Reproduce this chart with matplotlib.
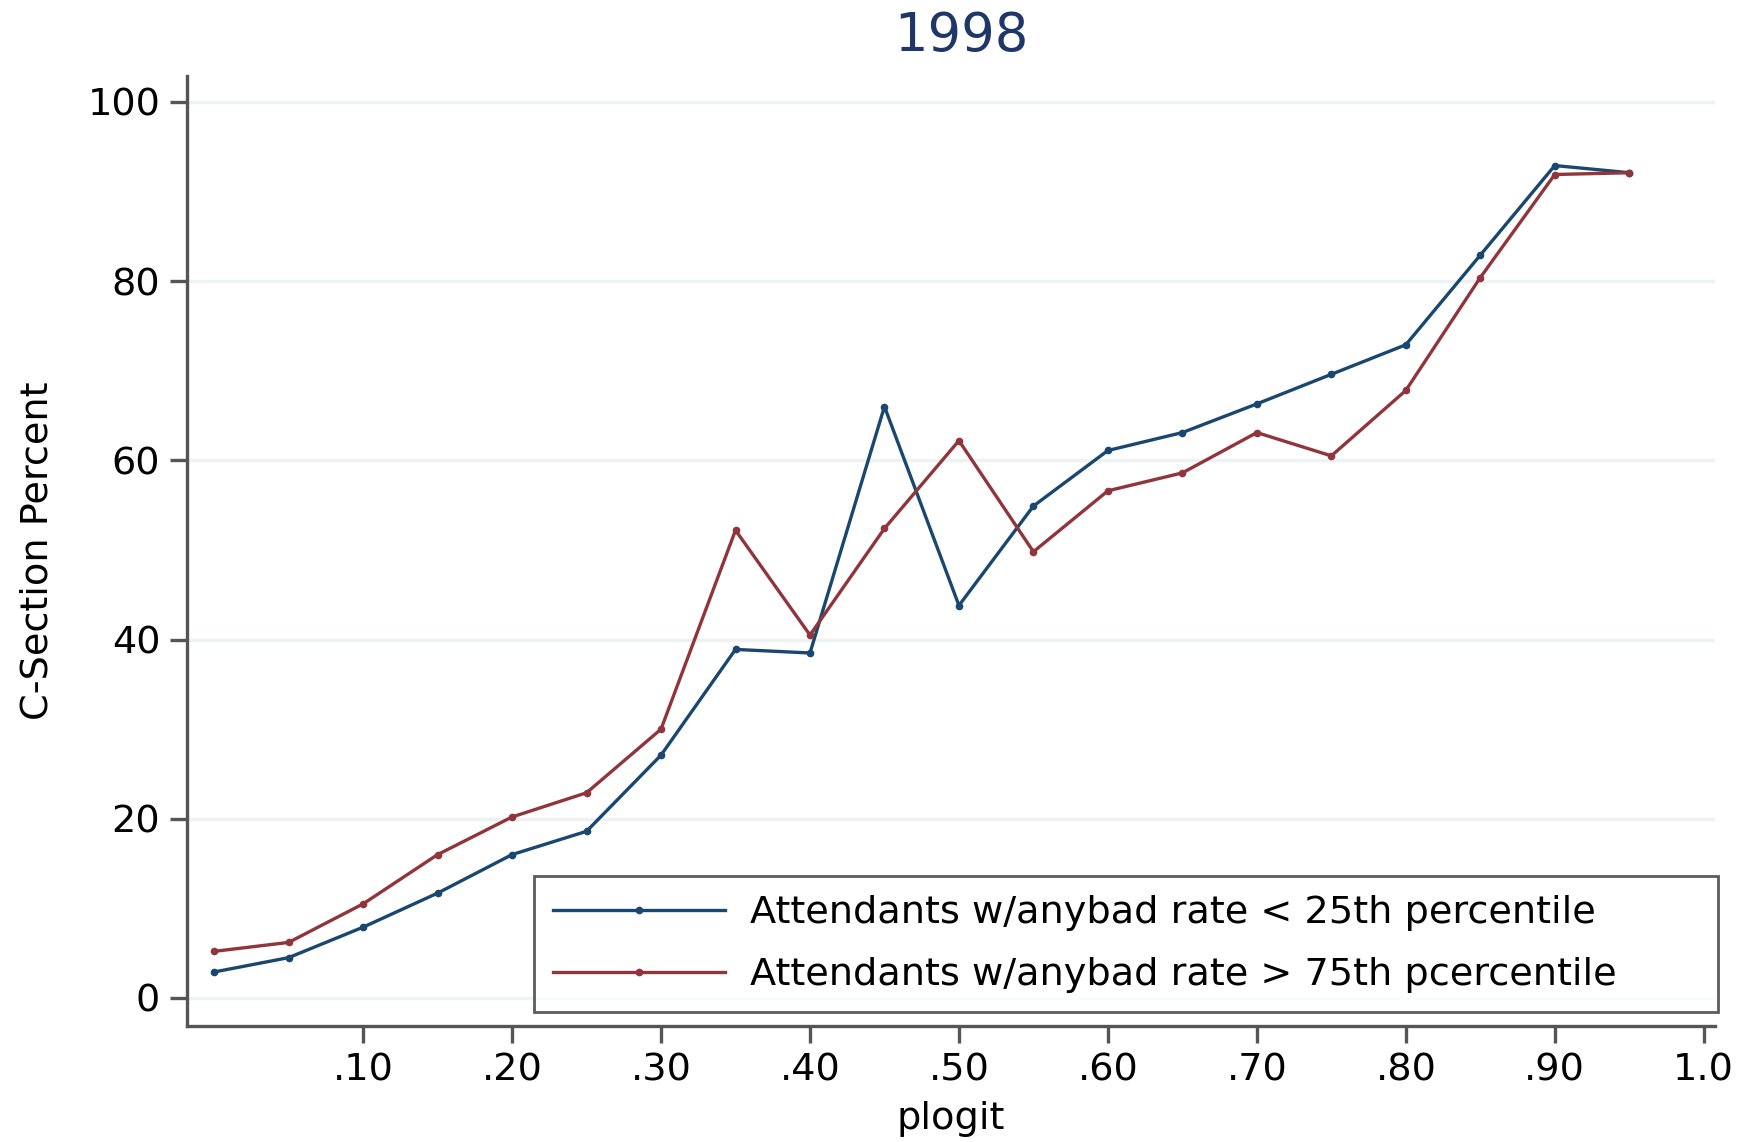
import matplotlib
matplotlib.use("Agg")
import matplotlib.pyplot as plt

plt.rcParams['font.family'] = ['DejaVu Sans']

plogit = [0.00, 0.05, 0.10, 0.15, 0.20, 0.25, 0.30, 0.35, 0.40, 0.45,
          0.50, 0.55, 0.60, 0.65, 0.70, 0.75, 0.80, 0.85, 0.90, 0.95]
low_rate = [2.9, 4.5, 7.9, 11.7, 16.0, 18.6, 27.1, 38.9, 38.5, 66.0,
            43.8, 54.9, 61.1, 63.1, 66.3, 69.6, 72.9, 82.9, 92.9, 92.1]
high_rate = [5.2, 6.2, 10.5, 16.0, 20.2, 22.9, 30.0, 52.2, 40.5, 52.4,
             62.2, 49.8, 56.6, 58.6, 63.1, 60.5, 67.8, 80.4, 91.9, 92.1]
xticks = [0.1, 0.2, 0.3, 0.4, 0.5, 0.6, 0.7, 0.8, 0.9, 1.0]
xticklabels = [".10", ".20", ".30", ".40", ".50", ".60", ".70", ".80", ".90", "1.0"]
yticks = [0, 20, 40, 60, 80, 100]
labels = ["Attendants w/anybad rate < 25th percentile",
          "Attendants w/anybad rate > 75th pcercentile"]

blue = "#1a476f"
red = "#90353b"
fs = 27.5

fig = plt.figure(figsize=(17.52, 11.42), dpi=100)
ax = fig.add_axes([0.1065, 0.1018, 0.8725, 0.8317])

for g in yticks:
    ax.axhline(g, color="#edf3f3", lw=2.5, zorder=0)

ax.plot(plogit, low_rate, "-", color=blue, lw=2.4, marker="o", ms=4.5, label=labels[0])
ax.plot(plogit, high_rate, "-", color=red, lw=2.4, marker="o", ms=4.5, label=labels[1])

ax.set_xlim(-0.0185, 1.0077)
ax.set_ylim(-3.1, 102.9)
ax.set_xticks(xticks)
ax.set_xticklabels(xticklabels)
ax.set_yticks(yticks)

for s in ["top", "right"]:
    ax.spines[s].set_visible(False)
for s in ["left", "bottom"]:
    ax.spines[s].set_color("#555555")
    ax.spines[s].set_linewidth(2.4)

ax.tick_params(axis="both", labelsize=fs, length=12, width=2.4, color="#555555", pad=7)
ax.set_xlabel("plogit", fontsize=fs, labelpad=9)
ax.set_ylabel("C-Section Percent", fontsize=fs, labelpad=23)
ax.set_title("1998", fontsize=38, color="#1f3668", pad=18, x=0.507)

leg = ax.legend(loc="lower left", bbox_to_anchor=(0.227, 0.0144, 0.775, 0.147), mode="expand",
                fontsize=fs, handlelength=4.5, handletextpad=0.67, frameon=True, fancybox=False,
                borderaxespad=0, labelspacing=0.68, borderpad=0.5)
leg.get_frame().set_edgecolor("#333333")
leg.get_frame().set_linewidth(2)

fig.savefig("out.png", dpi=100)
